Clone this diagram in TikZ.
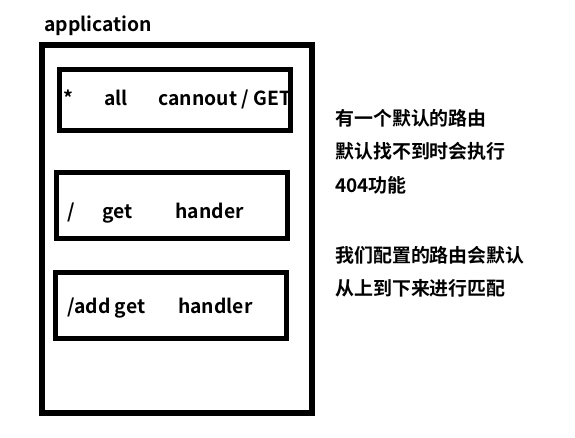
\documentclass[tikz,border=0pt]{standalone}
\usepackage{fontspec}
\setmainfont{Noto Sans CJK SC}[BoldFont={* Bold}]
\usepackage{tikz}

\begin{document}
\begin{tikzpicture}[x=0.75pt, y=-0.75pt, line join=miter,
  frame/.style={draw, line width=4.5pt},
  route/.style={draw, line width=3.75pt},
  lbl/.style={anchor=base west, inner sep=0pt, font=\bfseries\fontsize{14.5}{17}\selectfont},
  note/.style={anchor=base west, inner sep=0pt, font=\bfseries\fontsize{14.2}{17}\selectfont}]
  \useasboundingbox (0,0) rectangle (575,437);

  \node[lbl] (app) at (44,31) {application};
  \draw[frame] (41.5,45) rectangle (312,413);

  \draw[route] (59,69)  rectangle (290,130);
  \draw[route] (56,172) rectangle (287,238);
  \draw[route] (55,272) rectangle (286,338);

  \node[lbl] (all)  at (63,105) {*\hspace{1.6em}all\hspace{1.6em}cannout / GET};
  \node[lbl] (root) at (67,218) {/\hspace{1.45em}get\hspace{2.2em}hander};
  \node[lbl] (add)  at (67,313) {/add get\hspace{1.7em}handler};

  \node[note] (n1) at (335,125) {有一个默认的路由};
  \node[note] (n2) at (335,158) {默认找不到时会执行};
  \node[note] (n3) at (335,192) {404功能};
  \node[note] (n4) at (335,262) {我们配置的路由会默认};
  \node[note] (n5) at (335,295) {从上到下来进行匹配};
\end{tikzpicture}
\end{document}
